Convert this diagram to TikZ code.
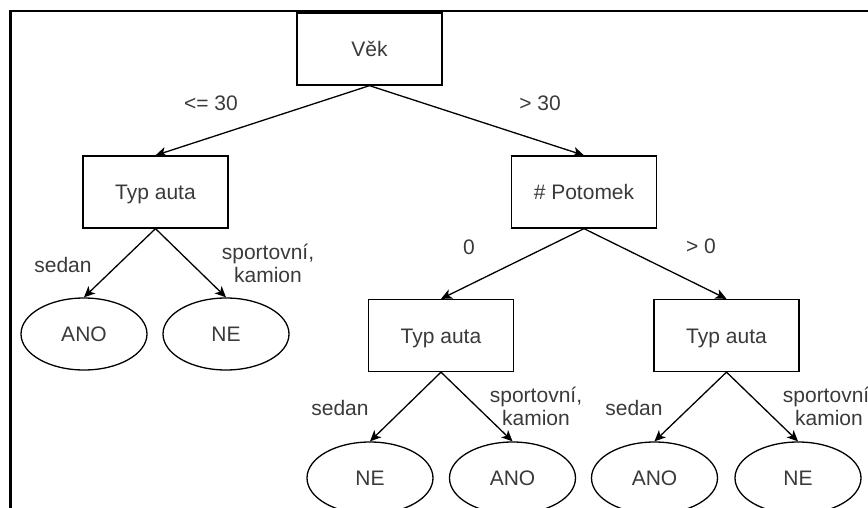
\documentclass[tikz,border=0pt]{standalone}
\usepackage{fontspec}
\setmainfont{Liberation Sans}
\usetikzlibrary{arrows.meta,shapes.geometric}
\definecolor{txt}{HTML}{3A3A3A}
\begin{document}
\begin{tikzpicture}[x=1pt,y=-1pt,
  txtfont/.style={font=\fontsize{21}{23}\selectfont, text=txt},
  dbox/.style={draw, line width=1.3pt, rectangle, minimum width=145pt, minimum height=72pt,
    inner sep=0pt, txtfont, text height=15pt, text depth=0pt},
  leaf/.style={draw, line width=1.3pt, ellipse, minimum width=126pt, minimum height=72pt,
    inner sep=0pt, txtfont, text height=15pt, text depth=0pt},
  lbl/.style={inner sep=0pt, txtfont, align=center, text height=15pt, text depth=0pt},
  arr/.style={line width=1.3pt, -{Stealth[length=11pt, width=10pt, inset=3pt]}}]
\useasboundingbox (0,0) rectangle (868,508);
\clip (0,0) rectangle (868,508);

% frame
\draw[line width=2.3pt] (10.5,600) -- (10.5,11) -- (900,11);

% decision nodes
\node[dbox] (vek)  at (369.5,49)  {Věk};
\node[dbox] (typA) at (155.5,192) {Typ auta};
\node[dbox] (pot)  at (584,192)   {\# Potomek};
\node[dbox] (typB) at (441,335.5) {Typ auta};
\node[dbox] (typC) at (726.5,335.5) {Typ auta};

% leaves
\node[leaf] (anoA) at (84,334)    {ANO};
\node[leaf] (neA)  at (226,334)   {NE};
\node[leaf] (neB)  at (370,478)   {NE};
\node[leaf] (anoB) at (512.5,478) {ANO};
\node[leaf] (anoC) at (654.5,478) {ANO};
\node[leaf] (neC)  at (798,478)   {NE};

% edges
\draw[arr] (vek.south)  -- (typA.north);
\draw[arr] (vek.south)  -- (pot.north);
\draw[arr] (typA.south) -- (anoA.north);
\draw[arr] (typA.south) -- (neA.north);
\draw[arr] (pot.south)  -- (typB.north);
\draw[arr] (pot.south)  -- (typC.north);
\draw[arr] (typB.south) -- (neB.north);
\draw[arr] (typB.south) -- (anoB.north);
\draw[arr] (typC.south) -- (anoC.north);
\draw[arr] (typC.south) -- (neC.north);

% edge labels
\node[lbl] (l1)  at (211,103) {<= 30};
\node[lbl] (l2)  at (540,103) {> 30};
\node[lbl] (l3)  at (63,265)  {sedan};
\node[lbl] (l4)  at (268,275) {sportovní,\\kamion};
\node[lbl] (l5)  at (469,247) {0};
\node[lbl] (l6)  at (701,246) {> 0};
\node[lbl] (l7)  at (340,408) {sedan};
\node[lbl] (l8)  at (536,418) {sportovní,\\kamion};
\node[lbl] (l9)  at (634,408) {sedan};
\node[lbl] (l10) at (829,418) {sportovní,\\kamion};
\end{tikzpicture}
\end{document}
